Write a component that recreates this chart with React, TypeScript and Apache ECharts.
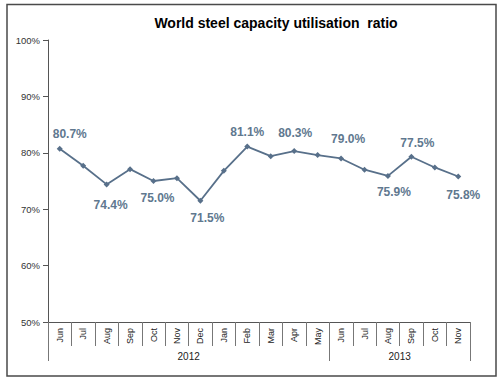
import React, { useEffect, useRef } from "react";
import * as echarts from "echarts";

const months = ["Jun","Jul","Aug","Sep","Oct","Nov","Dec","Jan","Feb","Mar","Apr","May","Jun","Jul","Aug","Sep","Oct","Nov"];
const utilisation = [80.7, 77.7, 74.4, 77.1, 75.0, 75.5, 71.5, 76.8, 81.1, 79.4, 80.3, 79.6, 79.0, 77.0, 75.9, 79.3, 77.4, 75.8];
const pointLabels = ["80.7%","","74.4%","","75.0%","","71.5%","","81.1%","","80.3%","","79.0%","","75.9%","77.5%","","75.8%"];
const years = ["2012", "2013"];
const yearBounds = [0, 12, 18];
const yearCentres = [6, 15];
const yTicks = [50, 60, 70, 80, 90, 100];

// label layout (style, not data)
const labelSide = ["top","","bottom","","bottom","","bottom","","top","","top","","top","","bottom","top","","bottom"];
const labelDx = [10,0,4,0,4,0,7,0,0,0,1,0,7,0,6,6,0,5];
const labelDy = [-2,0,8,0,4,0,4,0,-2,0,-5,0,-6,0,3,-1,0,6];

export default function App() {
  const ref = useRef<HTMLDivElement>(null);
  useEffect(() => {
    if (!ref.current) return;
    const chart = echarts.init(ref.current, undefined, { renderer: "svg" });
    const lineColor = "#58708a";
    const data = utilisation.map((v, i) => ({
      value: v,
      label: pointLabels[i]
        ? {
            show: true,
            position: labelSide[i] as any,
            distance: 4,
            offset: [labelDx[i], labelDy[i]],
            formatter: pointLabels[i],
          }
        : { show: false },
    }));
    chart.setOption({
      animation: false,
      backgroundColor: "#ffffff",
      title: {
        text: "World steel capacity utilisation  ratio",
        left: 271,
        top: 11,
        textAlign: "center",
        textStyle: { fontFamily: "Liberation Sans, Arial", fontWeight: "bold", fontSize: 14, color: "#000" },
      },
      graphic: [
        {
          type: "rect",
          shape: { x: 7, y: 4.5, width: 489, height: 371.5 },
          style: { fill: "none", stroke: "#4a4a4a", lineWidth: 1.5 },
          silent: true,
        },
      ],
      grid: { left: 48, right: 33, top: 40, bottom: 61, containLabel: false },
      xAxis: [
        {
          type: "category",
          data: months,
          boundaryGap: true,
          position: "bottom",
          axisLine: { show: true, lineStyle: { color: "#555", width: 1 } },
          axisTick: { show: true, alignWithLabel: false, length: 24, lineStyle: { color: "#777" } },
          axisLabel: {
            rotate: 90,
            margin: 6,
            fontSize: 9,
            fontFamily: "Liberation Sans, Arial",
            color: "#222",
            interval: 0,
          },
          splitLine: { show: false },
        },
        {
          type: "value",
          min: 0,
          max: 18,
          position: "bottom",
          axisLine: { show: false },
          axisTick: { show: true, customValues: yearBounds, length: 39, lineStyle: { color: "#777" } },
          axisLabel: {
            customValues: yearCentres,
            margin: 29,
            fontSize: 10,
            fontFamily: "Liberation Sans, Arial",
            color: "#222",
            formatter: (v: number) => years[yearCentres.indexOf(v)] ?? "",
          },
          splitLine: { show: false },
        },
      ],
      yAxis: {
        type: "value",
        min: yTicks[0],
        max: yTicks[yTicks.length - 1],
        interval: 10,
        axisLine: { show: true, lineStyle: { color: "#555", width: 1 } },
        axisTick: { show: true, length: 5, lineStyle: { color: "#555" } },
        axisLabel: {
          formatter: "{value}%",
          fontSize: 9.5,
          margin: 8,
          fontFamily: "Liberation Sans, Arial",
          color: "#333",
        },
        splitLine: { show: false },
      },
      series: [
        {
          type: "line",
          xAxisIndex: 0,
          data,
          symbol: "diamond",
          symbolSize: 6,
          itemStyle: { color: lineColor },
          lineStyle: { color: lineColor, width: 1.8 },
          label: {
            fontSize: 12,
            fontWeight: "bold",
            fontFamily: "Liberation Sans, Arial",
            color: "#60788f",
          },
        },
      ],
    });
    return () => chart.dispose();
  }, []);
  return (
    <div
      ref={ref}
      style={{ position: "fixed", left: 0, top: 0, width: 503, height: 383, background: "#fff" }}
    />
  );
}
